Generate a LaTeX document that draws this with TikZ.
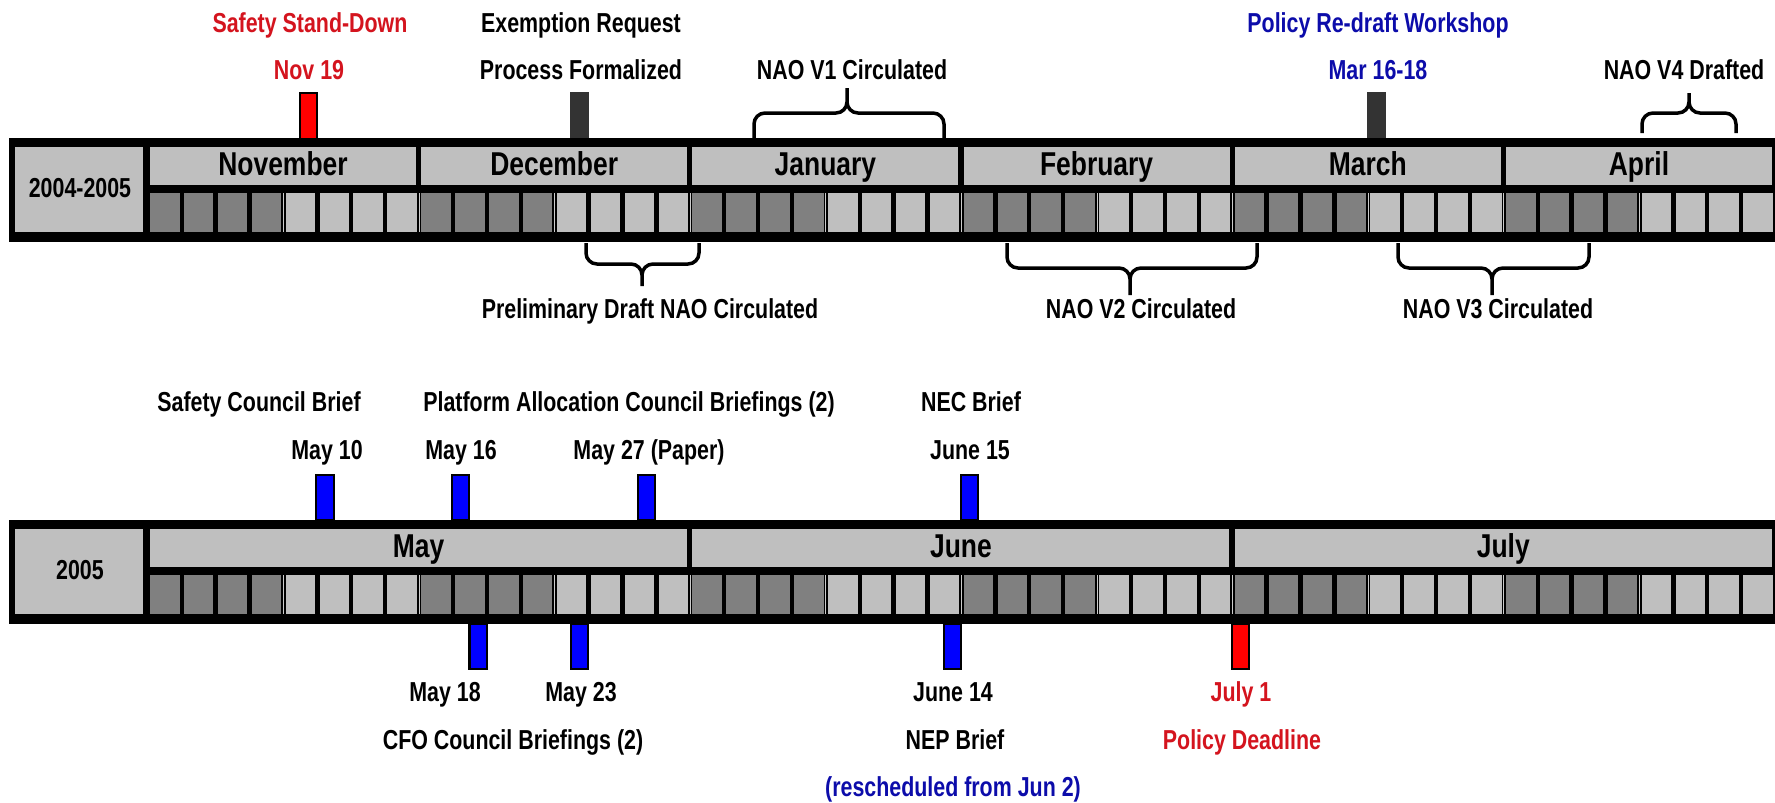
\documentclass[tikz,border=0pt]{standalone}
\usepackage{fontspec}
\newfontfamily\narrowfont{Liberation Sans}[FakeStretch=0.78]
\newfontfamily\monthfont{Liberation Sans}[FakeStretch=0.80]
\definecolor{evred}{RGB}{212,20,30}
\definecolor{evblue}{RGB}{12,12,170}
\definecolor{markred}{RGB}{255,0,0}
\definecolor{markblue}{RGB}{0,0,255}
\definecolor{markdark}{RGB}{51,51,51}
\begin{document}
\begin{tikzpicture}[x=0.01cm, y=-0.01cm,
  ev label/.style={font={\narrowfont\bfseries\fontsize{7.8}{9}\selectfont}, anchor=base, inner sep=0pt},
  month label/.style={font={\monthfont\bfseries\fontsize{9.4}{11}\selectfont}, anchor=base, inner sep=0pt},
  tick bar/.style={rectangle, draw=black, line width=0.02cm, minimum width=0.17cm, minimum height=0.45cm, inner sep=0pt},
  curly/.style={rounded corners=0.11cm, line width=0.035cm}]
\fill[white] (0,0) rectangle (1775,802);
\useasboundingbox (0,0) rectangle (1775,802);
%% event ticks
\node[tick bar, fill=markred] (nov19) at (308.5,116) {};
\node[tick bar, fill=markdark, draw=markdark] (exreq) at (579.5,116) {};
\node[tick bar, fill=markdark, draw=markdark] (mar16) at (1376.5,116) {};
\node[tick bar, fill=markblue] (may10) at (325,497.5) {};
\node[tick bar, fill=markblue] (may16) at (460.5,497.5) {};
\node[tick bar, fill=markblue] (may27) at (646.5,497.5) {};
\node[tick bar, fill=markblue] (jun15) at (969.5,497.5) {};
\node[tick bar, fill=markblue] (may18) at (478,646) {};
\node[tick bar, fill=markblue] (may23) at (579.5,646) {};
\node[tick bar, fill=markblue] (jun14) at (952,646) {};
\node[tick bar, fill=markred] (jul1) at (1240.5,646) {};
%% bars
\foreach \dy in {0,382}{
  \fill[black] (9,138+\dy) rectangle (1777,242+\dy);
  \fill[black!25] (15,147+\dy) rectangle (143,232+\dy);
  \foreach \i in {0,...,47}{
    \pgfmathtruncatemacro\gv{50-25*mod(floor(\i/4),2)}
    \fill[black!\gv] ({150+33.9*\i},193+\dy) rectangle ({179.5+33.9*\i},232+\dy);
  }
  \foreach \i in {4,8,...,44}
    \draw[black!20, line width=0.008cm] ({147.8+33.9*\i},193+\dy) -- ({147.8+33.9*\i},232+\dy);
}
\foreach \name [count=\i from 0] in {November,December,January,February,March,April}{
  \fill[black!25] ({150+271.2*\i},147) rectangle ({416+271.2*\i},185);
  \node[month label] (mA\i) at ({283+271.2*\i},175) {\name};
}
\foreach \name [count=\i from 0] in {May,June,July}{
  \fill[black!25] ({150+542.4*\i},529) rectangle ({687+542.4*\i},567);
  \node[month label] (mB\i) at ({418.5+542.4*\i},557) {\name};
}
\node[ev label] (yrA) at (80,197) {2004-2005};
\node[ev label] (yrB) at (80,579) {2005};
%% braces
\coordinate (janA) at (754,138);  \coordinate (janB) at (944,138);
\coordinate (janM) at (847,113);  \coordinate (janT) at (847,88);
\coordinate (aprA) at (1642,133); \coordinate (aprB) at (1736,133);
\coordinate (aprM) at (1689,113); \coordinate (aprT) at (1689,93);
\coordinate (preA) at (586,243);  \coordinate (preB) at (699,243);
\coordinate (preM) at (642,264);  \coordinate (preT) at (642,286);
\coordinate (febA) at (1007,243); \coordinate (febB) at (1257,243);
\coordinate (febM) at (1130,268); \coordinate (febT) at (1130,295);
\coordinate (marA) at (1398,243); \coordinate (marB) at (1589,243);
\coordinate (marM) at (1492,268); \coordinate (marT) at (1492,295);
\foreach \b in {jan,apr,pre,feb,mar}
  \draw[curly] (\b A) |- (\b M) -- (\b T) (\b B) |- (\b M) -- (\b T);
%% labels, first timeline
\node[ev label, text=evred] (lstand) at (310,32) {Safety Stand-Down};
\node[ev label, text=evred] (lnov) at (309,79) {Nov 19};
\node[ev label] (lexreq) at (581,32) {Exemption Request};
\node[ev label] (lproc) at (581,79) {Process Formalized};
\node[ev label] (lvone) at (852,79) {NAO V1 Circulated};
\node[ev label, text=evblue] (lwork) at (1378,32) {Policy Re-draft Workshop};
\node[ev label, text=evblue] (lmar) at (1378,79) {Mar 16-18};
\node[ev label] (lvfour) at (1684,79) {NAO V4 Drafted};
\node[ev label] (lpre) at (650,318) {Preliminary Draft NAO Circulated};
\node[ev label] (lvtwo) at (1141,318) {NAO V2 Circulated};
\node[ev label] (lvthree) at (1498,318) {NAO V3 Circulated};
%% labels, second timeline
\node[ev label] (lscb) at (259,411) {Safety Council Brief};
\node[ev label] (lpac) at (629,411) {Platform Allocation Council Briefings (2)};
\node[ev label] (lnec) at (971,411) {NEC Brief};
\node[ev label] (lmten) at (327,459) {May 10};
\node[ev label] (lmsix) at (461,459) {May 16};
\node[ev label] (lmpap) at (649,459) {May 27 (Paper)};
\node[ev label] (ljfif) at (970,459) {June 15};
\node[ev label] (lmeig) at (445,701) {May 18};
\node[ev label] (lmtre) at (581,701) {May 23};
\node[ev label] (ljfou) at (953,701) {June 14};
\node[ev label, text=evred] (ljul) at (1241,701) {July 1};
\node[ev label] (lcfo) at (513,749) {CFO Council Briefings (2)};
\node[ev label] (lnep) at (955,749) {NEP Brief};
\node[ev label, text=evred] (ldead) at (1242,749) {Policy Deadline};
\node[ev label, text=evblue] (lres) at (953,796) {(rescheduled from Jun 2)};
\end{tikzpicture}
\end{document}
